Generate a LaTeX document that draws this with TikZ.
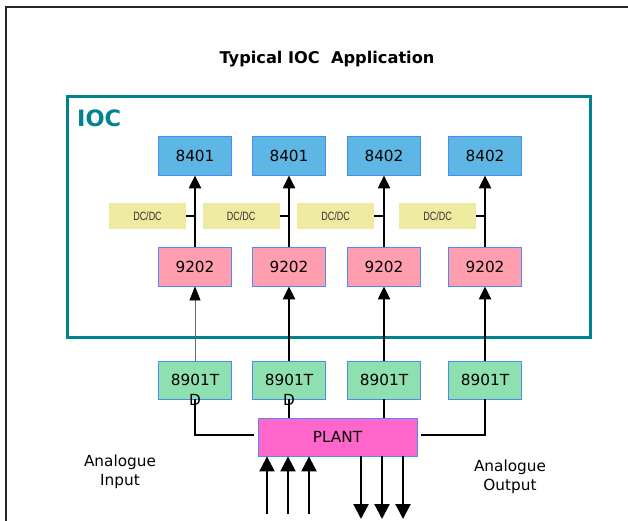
\documentclass[tikz,border=0pt]{standalone}
\usepackage{fontspec}
\setmainfont{DejaVu Sans}
\newfontfamily\narrowfont{Liberation Sans}
\usetikzlibrary{arrows.meta}
\definecolor{tealioc}{HTML}{00838F}
\definecolor{boxedge}{HTML}{4A8CF0}
\definecolor{bluefill}{HTML}{5EB6E4}
\definecolor{pinkfill}{HTML}{FF9EAF}
\definecolor{greenfill}{HTML}{8FE0B0}
\definecolor{plantfill}{HTML}{FF66CC}
\definecolor{dcfill}{HTML}{EEEAA0}
\tikzset{
  box/.style={draw=boxedge, line width=0.8pt, minimum width=73pt, minimum height=39pt,
    inner sep=0pt, font=\fontsize{15.3}{18}\selectfont},
  bluebox/.style={box, fill=bluefill},
  pinkbox/.style={box, fill=pinkfill},
  greenbox/.style={box, fill=greenfill, minimum height=38pt},
  plantbox/.style={box, fill=plantfill, minimum width=159pt, minimum height=38pt},
  dcbox/.style={fill=dcfill, minimum width=77pt, minimum height=26pt, inner sep=0pt,
    text=black!80, font=\narrowfont\fontsize{12}{13}\selectfont},
  arr/.style={line width=2.2pt, -{Triangle[width=12pt,length=13pt]}},
  thinarr/.style={line width=0.7pt, draw=black!60, -{Triangle[width=11pt,length=14pt,color=black]}},
  bigarr/.style={line width=2.2pt, -{Triangle[width=15pt,length=15pt]}},
  wire/.style={line width=2pt},
  stub/.style={line width=1.6pt},
  labeltext/.style={align=center, font=\fontsize{15.3}{19}\selectfont},
}
\newcommand{\dctext}{\scalebox{0.75}[1]{DC/DC}\hspace{10pt}}
\begin{document}
\begin{tikzpicture}[x=1pt,y=-1pt]
\useasboundingbox (0,0) rectangle (628,521);
\clip (0,0) rectangle (628,521);
\fill[white] (0,0) rectangle (628,521);
\draw[line width=1.8pt, black!85] (6,540) -- (6,7) -- (660,7);

\node[font=\fontsize{16.2}{19}\selectfont\bfseries] (title) at (327,59) {Typical IOC\ \ Application};
\draw[draw=tealioc, line width=3pt] (67.5,96.5) rectangle (590,337.5);
\node[anchor=west, text=tealioc, font=\fontsize{22.5}{26}\selectfont\bfseries, inner sep=0pt] (ioc) at (77,118) {IOC};

% top row
\node[bluebox] (b1) at (195,155.5) {8401};
\node[bluebox] (b2) at (289,155.5) {8401};
\node[bluebox] (b3) at (384,155.5) {8402};
\node[bluebox] (b4) at (485,155.5) {8402};

% DC/DC
\node[dcbox] (d1) at (147.5,216) {\dctext};
\node[dcbox] (d2) at (241,216) {\dctext};
\node[dcbox] (d3) at (335.5,216) {\dctext};
\node[dcbox] (d4) at (437.5,216) {\dctext};

% 9202 row
\node[pinkbox] (p1) at (195,266.5) {9202};
\node[pinkbox] (p2) at (289,266.5) {9202};
\node[pinkbox] (p3) at (384,266.5) {9202};
\node[pinkbox] (p4) at (485,266.5) {9202};

% 8901T row
\node[greenbox, label={[anchor=center, inner sep=0pt, font=\fontsize{15.3}{18}\selectfont, yshift=-1pt]below:D}] (g1) at (195,380) {8901T};
\node[greenbox, label={[anchor=center, inner sep=0pt, font=\fontsize{15.3}{18}\selectfont, yshift=-1pt]below:D}] (g2) at (289,380) {8901T};
\node[greenbox] (g3) at (384,380) {8901T};
\node[greenbox] (g4) at (485,380) {8901T};

% plant
\node[plantbox] (plant) at (337.5,437) {PLANT};

% arrows 9202 -> 84xx
\foreach \i in {1,2,3,4} {
  \draw[arr] (p\i.north) -- (b\i.south);
  \draw[stub] (d\i.east) -- (d\i.east -| p\i.north);
}

% arrows 8901T -> 9202
\draw[thinarr] (g1.north) -- (p1.south);
\draw[arr] (g2.north) -- (p2.south);
\draw[arr] (g3.north) -- (p3.south);
\draw[arr] (g4.north) -- (p4.south);

% wires to plant
\draw[wire] (g1.south) |- ([xshift=-4pt,yshift=2pt]plant.west);
\draw[wire] (g2.south) -- (plant.north -| g2.south);
\draw[wire] (g3.south) -- (plant.north -| g3.south);
\draw[wire] (g4.south) |- ([xshift=4pt,yshift=2pt]plant.east);

% analogue inputs / outputs
\coordinate (i1) at (267,514);
\coordinate (i2) at (288,514);
\coordinate (i3) at (309,514);
\coordinate (o1) at (361,519);
\coordinate (o2) at (382,519);
\coordinate (o3) at (403,519);
\foreach \c in {i1,i2,i3} \draw[bigarr] (\c) -- (\c |- plant.south);
\foreach \c in {o1,o2,o3} \draw[bigarr] (\c |- plant.south) -- (\c);

\node[labeltext] (ain) at (120,472) {Analogue\\Input};
\node[labeltext] (aout) at (510,477) {Analogue\\Output};
\end{tikzpicture}
\end{document}
